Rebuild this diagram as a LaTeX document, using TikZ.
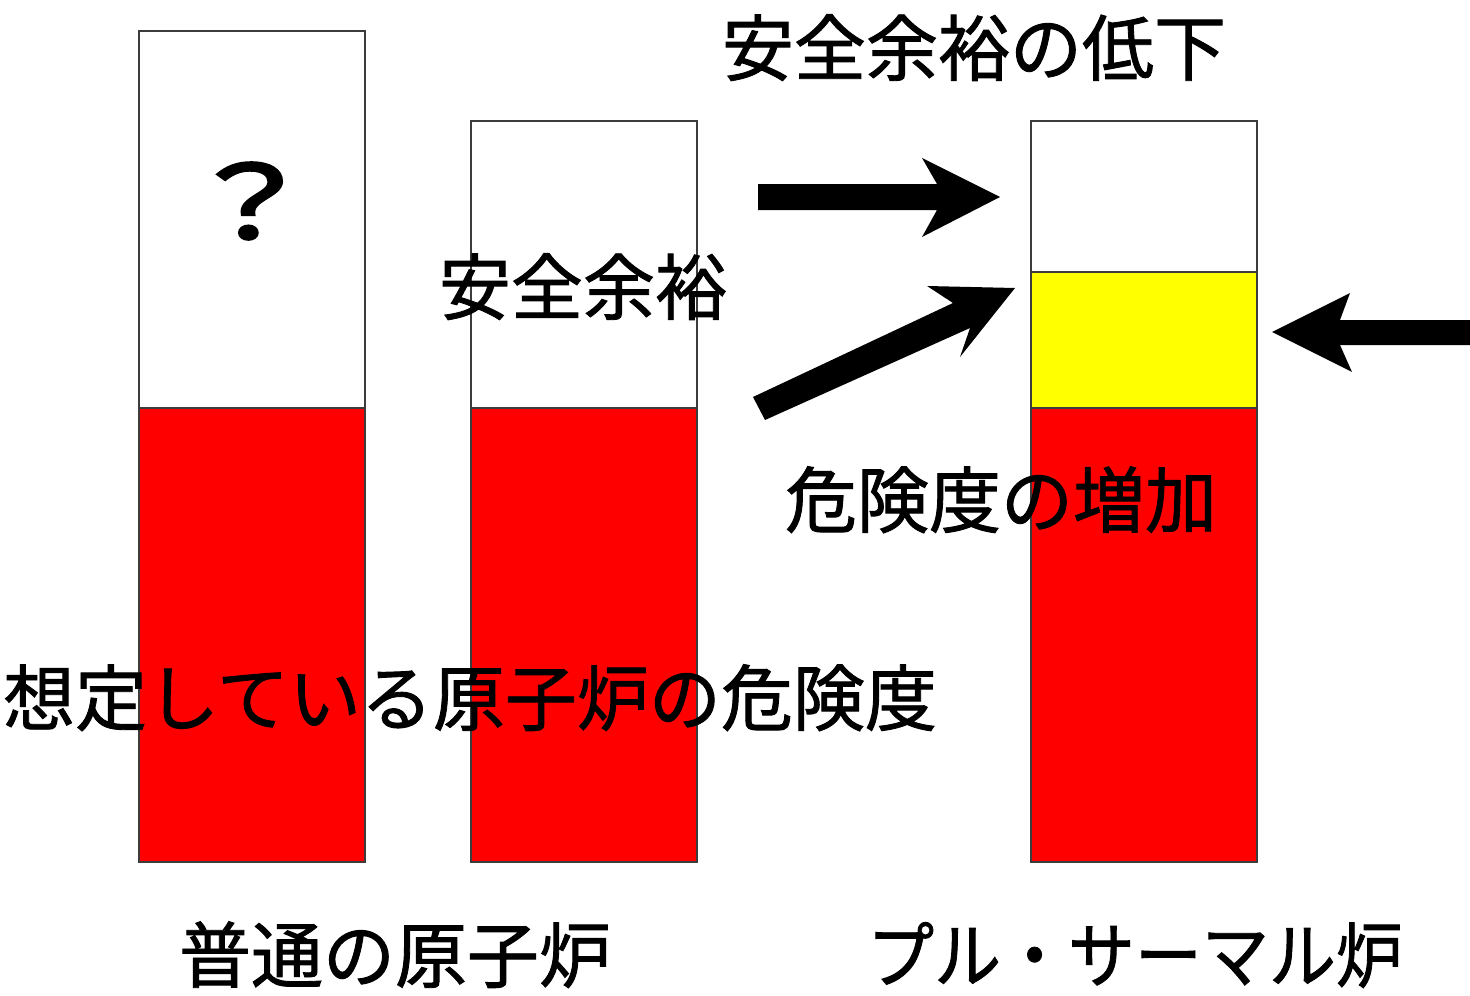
\documentclass[tikz,border=0pt]{standalone}
\usepackage{fontspec}
\newfontfamily\jp[FakeBold=1.2,AutoFakeBold=1.2]{Noto Sans CJK JP}
\newfontfamily\jpq[FakeBold=3]{Noto Sans CJK JP}
\definecolor{barred}{RGB}{255,0,0}
\definecolor{baryellow}{RGB}{255,255,0}
\definecolor{edge}{RGB}{60,60,60}
\begin{document}
\begin{tikzpicture}[x=0.5pt,y=-0.5pt,
  bar/.style={draw=edge,line width=1pt},
  lbl/.style={font=\jp\bfseries\fontsize{36pt}{36pt}\selectfont,inner sep=0pt,anchor=base,text=black},
  arr/.style={fill=black}]
\useasboundingbox[fill=white] (0,0) rectangle (1470,995);
% bars
\fill[barred] (139,408) rectangle (365,862);
\fill[barred] (471,408) rectangle (697,862);
\fill[barred] (1031,408) rectangle (1257,862);
\fill[baryellow] (1031,272) rectangle (1257,408);
\draw[bar] (139,31) rectangle (365,862);
\draw[bar] (139,408) -- (365,408);
\draw[bar] (471,121) rectangle (697,862);
\draw[bar] (471,408) -- (697,408);
\draw[bar] (1031,121) rectangle (1257,862);
\draw[bar] (1031,272) -- (1257,272);
\draw[bar] (1031,408) -- (1257,408);
% arrows
\fill[arr] (758,184) -- (937,184) -- (922,158) -- (1000,197) -- (922,237) -- (937,210) -- (758,210) -- cycle;
\fill[arr] (753,397) -- (953,303) -- (927,286) -- (1015,288) -- (960,357) -- (970,328) -- (765,420) -- cycle;
\fill[arr] (1470,320) -- (1340,320) -- (1350,293) -- (1272,332) -- (1352,372) -- (1340,345) -- (1470,345) -- cycle;
% labels
\node[lbl] (t1) at (974,75) {安全余裕の低下};
\node[lbl] (t2) at (583,314) {安全余裕};
\node[lbl] (t3) at (1001,527) {危険度の増加};
\node[lbl] (t4) at (470,725) {想定している原子炉の危険度};
\node[lbl] (t5) at (395,982) {普通の原子炉};
\node[lbl,xscale=0.93] (t6) at (1135,982) {プル・サーマル炉};
\node[inner sep=0pt,font=\jpq\fontsize{50pt}{50pt}\selectfont,xscale=1.3] (q) at (250,201) {？};
\end{tikzpicture}
\end{document}
